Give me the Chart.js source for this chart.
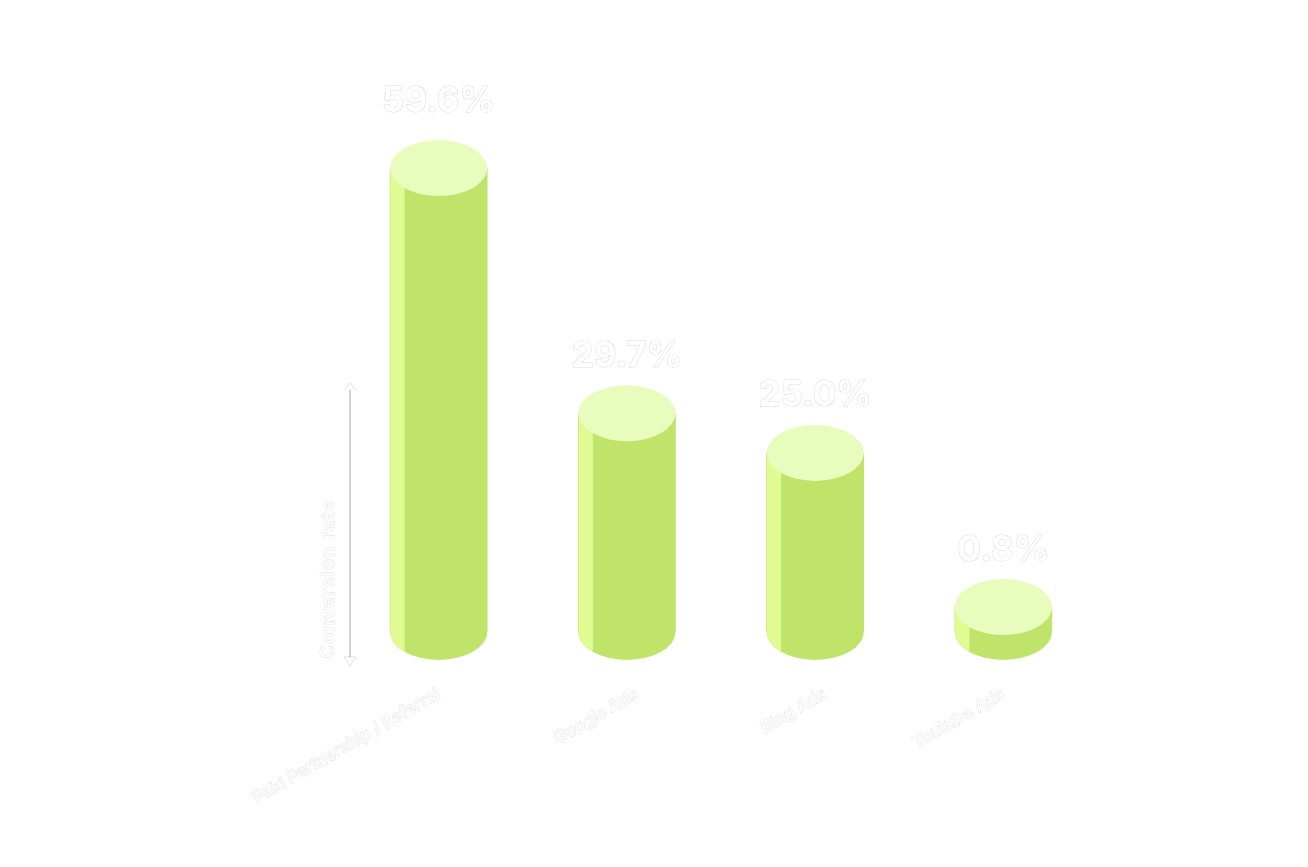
<!DOCTYPE html>
<html>
<head>
<meta charset="utf-8">
<title>Conversion rate</title>
<script src="https://cdn.jsdelivr.net/npm/chart.js@4/dist/chart.umd.min.js"></script>
<style>
    html, body { margin: 0; padding: 0; background: #fff; }
    canvas { display: block; }
</style>
</head>
<body>
<canvas id="chart" width="1308" height="867"></canvas>
<script>
const categories = ['Paid Partnership / Referral', 'Google Ads', 'Bing Ads', 'Youtube Ads'];
// printed percentages
const valueLabels = ['59.6%', '29.7%', '25.0%', '0.8%'];
// the cylinders in the picture are not proportional to the printed numbers, so these are the drawn heights
const drawnHeights = [59.6, 28.1, 23.0, 3.2];
const axisTitle = 'Conversion rate';

const sideColor = '#c0e36a';
const stripColor = '#dffb92';
const topColor = '#e8fdbd';
const haloColor = 'rgba(0,0,0,0.16)';

// Cylinder shading and the text that sits around the bars
const cylinderPlugin = {
    id: 'cylinders',
    beforeDraw(chart) {
        // the two middle labels sit a little right of their bars
        const items = chart.scales.x.getLabelItems(chart.chartArea);
        items[1].options.translation[0] += 10;
        items[2].options.translation[0] += 10;
    },
    afterDatasetsDraw(chart) {
        const ctx = chart.ctx;
        const ry = 28;
        const stripWidth = 14.5;

        chart.getDatasetMeta(0).data.forEach((bar, i) => {
            const rx = bar.width / 2;
            const left = bar.x - rx;

            // body with rounded bottom
            ctx.save();
            ctx.beginPath();
            ctx.moveTo(left, bar.y);
            ctx.lineTo(left, bar.base);
            ctx.ellipse(bar.x, bar.base, rx, ry, 0, Math.PI, 0, true);
            ctx.lineTo(left + bar.width, bar.y);
            ctx.closePath();
            ctx.fillStyle = sideColor;
            ctx.fill();
            ctx.clip();
            ctx.fillStyle = stripColor;
            ctx.fillRect(left, bar.y, stripWidth, bar.base - bar.y + ry);
            ctx.restore();

            // top cap
            ctx.beginPath();
            ctx.ellipse(bar.x, bar.y, rx, ry, 0, 0, Math.PI * 2);
            ctx.fillStyle = topColor;
            ctx.fill();

            // value label
            const gap = i === 0 ? 39 : 29;
            ctx.save();
            ctx.font = '700 35px Inter';
            ctx.textAlign = 'center';
            ctx.textBaseline = 'middle';
            ctx.lineWidth = 1;
            ctx.strokeStyle = haloColor;
            ctx.fillStyle = '#fff';
            ctx.strokeText(valueLabels[i], bar.x, bar.y - ry - gap);
            ctx.fillText(valueLabels[i], bar.x, bar.y - ry - gap);
            ctx.restore();
        });

        // axis arrow
        ctx.save();
        ctx.strokeStyle = '#c4c4c4';
        ctx.lineWidth = 1.5;
        ctx.beginPath();
        ctx.moveTo(350, 390);
        ctx.lineTo(350, 657);
        ctx.stroke();
        ctx.strokeStyle = haloColor;
        ctx.lineWidth = 0.8;
        ctx.beginPath();
        ctx.moveTo(344, 390);
        ctx.lineTo(350, 383);
        ctx.lineTo(356, 390);
        ctx.moveTo(344, 657);
        ctx.lineTo(356, 657);
        ctx.lineTo(350, 666);
        ctx.closePath();
        ctx.stroke();

        // axis title
        ctx.translate(329, 579);
        ctx.rotate(-Math.PI / 2);
        ctx.font = '500 18px Inter';
        ctx.letterSpacing = '1.5px';
        ctx.textAlign = 'center';
        ctx.textBaseline = 'middle';
        ctx.lineWidth = 0.8;
        ctx.strokeStyle = haloColor;
        ctx.fillStyle = '#fff';
        ctx.strokeText(axisTitle, 0, 0);
        ctx.fillText(axisTitle, 0, 0);
        ctx.restore();
    }
};

document.addEventListener('DOMContentLoaded', function () {
    new Chart(document.getElementById('chart'), {
        type: 'bar',
        data: {
            labels: categories,
            datasets: [{
                data: drawnHeights,
                backgroundColor: sideColor,
                borderWidth: 0,
                barThickness: 97
            }]
        },
        plugins: [cylinderPlugin],
        options: {
            responsive: false,
            animation: false,
            layout: { padding: { left: 344.5, right: 210.5, top: 165, bottom: 0 } },
            plugins: { legend: { display: false }, tooltip: { enabled: false } },
            scales: {
                x: {
                    grid: { display: false },
                    border: { display: false },
                    afterFit(scale) { scale.height = 235; },
                    ticks: {
                        minRotation: 30,
                        maxRotation: 30,
                        padding: 44,
                        color: '#fff',
                        textStrokeColor: haloColor,
                        textStrokeWidth: 0.8,
                        font: { family: 'Inter', size: 17, weight: '500' }
                    }
                },
                y: { display: false, min: 0, max: 60 }
            }
        }
    });
});
</script>
</body>
</html>
